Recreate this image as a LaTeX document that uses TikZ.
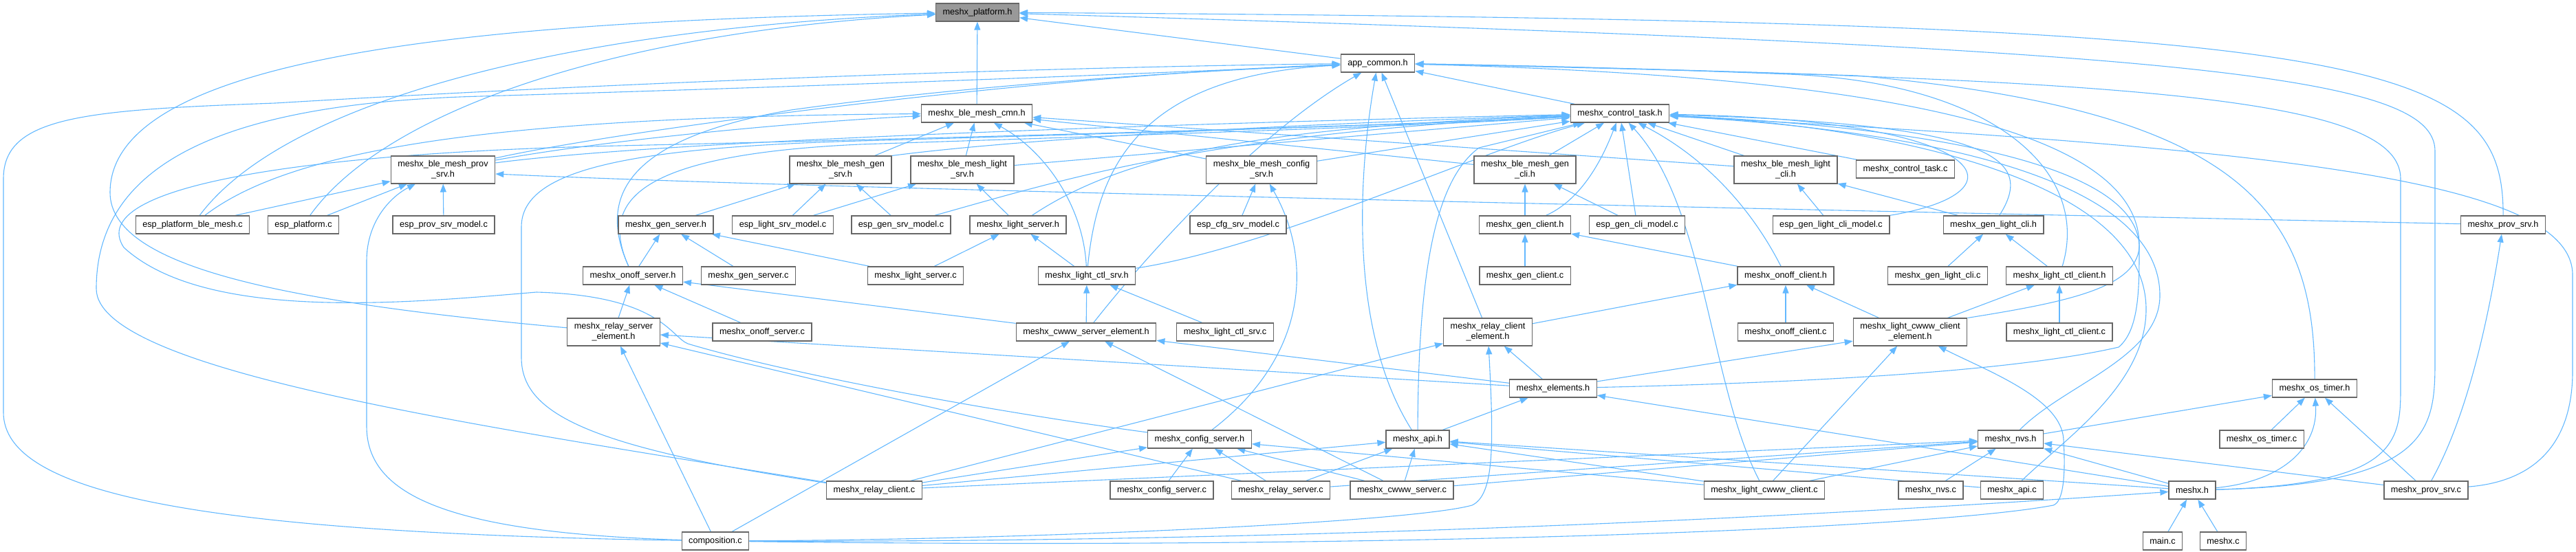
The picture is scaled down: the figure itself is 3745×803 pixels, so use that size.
\documentclass[tikz,border=0pt]{standalone}
\usepackage{fontspec}
\setsansfont{Liberation Sans}
\usetikzlibrary{arrows.meta}
\definecolor{IncBlue}{HTML}{63B8FF}
\definecolor{BoxLine}{HTML}{666666}
\definecolor{FocusGray}{HTML}{999999}
\pgfdeclarelayer{wires}
\pgfsetlayers{wires,main}

\begin{document}
\begin{tikzpicture}[x=1pt,y=-1pt,
    font=\sffamily\fontsize{12.7}{15}\selectfont,
    file/.style={draw=BoxLine,line width=1.3pt,fill=white,inner xsep=10pt,inner ysep=6.5pt,minimum height=26pt,align=center},
    focus/.style={file,fill=FocusGray},
    inc/.style={draw=IncBlue,line width=1.1pt,-{Triangle[length=12pt,width=9pt]}}]
  \path[use as bounding box] (0,0) rectangle (3745,803);

  % rows of the include graph
  \node[focus] (plat) at (1421,18) {meshx\_platform.h};
  \node[file] (app) at (2003,92) {app\_common.h};
  \node[file] (cmn) at (1420,165) {meshx\_ble\_mesh\_cmn.h};
  \node[file] (ctl) at (2355,165) {meshx\_control\_task.h};

  \node[file] (bprov) at (644,247) {meshx\_ble\_mesh\_prov\\\_srv.h};
  \node[file] (bgsrv) at (1222,247) {meshx\_ble\_mesh\_gen\\\_srv.h};
  \node[file] (blsrv) at (1399,247) {meshx\_ble\_mesh\_light\\\_srv.h};
  \node[file] (bcfg) at (1834,247) {meshx\_ble\_mesh\_config\\\_srv.h};
  \node[file] (bgcli) at (2217,247) {meshx\_ble\_mesh\_gen\\\_cli.h};
  \node[file] (blcli) at (2596,247) {meshx\_ble\_mesh\_light\\\_cli.h};
  \node[file] (ctlc) at (2770,246) {meshx\_control\_task.c};

  \node[file] (epbm) at (280,327) {esp\_platform\_ble\_mesh.c};
  \node[file] (ep) at (441,327) {esp\_platform.c};
  \node[file] (epsm) at (645,327) {esp\_prov\_srv\_model.c};
  \node[file] (gsrvh) at (968,327) {meshx\_gen\_server.h};
  \node[file] (elsm) at (1138,327) {esp\_light\_srv\_model.c};
  \node[file] (egsm) at (1310,327) {esp\_gen\_srv\_model.c};
  \node[file] (lsrvh) at (1480,327) {meshx\_light\_server.h};
  \node[file] (ecsm) at (1800,327) {esp\_cfg\_srv\_model.c};
  \node[file] (gcli) at (2217,327) {meshx\_gen\_client.h};
  \node[file] (egcm) at (2380,327) {esp\_gen\_cli\_model.c};
  \node[file] (eglcm) at (2662,327) {esp\_gen\_light\_cli\_model.c};
  \node[file] (glcli) at (2898,327) {meshx\_gen\_light\_cli.h};
  \node[file] (provh) at (3639,327) {meshx\_prov\_srv.h};

  \node[file] (onsrv) at (920,401) {meshx\_onoff\_server.h};
  \node[file] (gsrvc) at (1088,401) {meshx\_gen\_server.c};
  \node[file] (lsrvc) at (1331,401) {meshx\_light\_server.c};
  \node[file] (lctlh) at (1580,401) {meshx\_light\_ctl\_srv.h};
  \node[file] (gclic) at (2217,401) {meshx\_gen\_client.c};
  \node[file] (oncli) at (2596,401) {meshx\_onoff\_client.h};
  \node[file] (glclic) at (2817,401) {meshx\_gen\_light\_cli.c};
  \node[file] (lcch) at (2994,401) {meshx\_light\_ctl\_client.h};

  \node[file] (rsel) at (892,483) {meshx\_relay\_server\\\_element.h};
  \node[file] (onsrvc) at (1108,483) {meshx\_onoff\_server.c};
  \node[file] (cwsel) at (1579,483) {meshx\_cwww\_server\_element.h};
  \node[file] (lctlc) at (1781,483) {meshx\_light\_ctl\_srv.c};
  \node[file] (rcel) at (2163,483) {meshx\_relay\_client\\\_element.h};
  \node[file] (onclic) at (2596,483) {meshx\_onoff\_client.c};
  \node[file] (lccel) at (2777,483) {meshx\_light\_cwww\_client\\\_element.h};
  \node[file] (lccc) at (2994,483) {meshx\_light\_ctl\_client.c};

  \node[file] (elem) at (2258,565) {meshx\_elements.h};
  \node[file] (ostim) at (3365,565) {meshx\_os\_timer.h};

  \node[file] (cfgsh) at (1744,639) {meshx\_config\_server.h};
  \node[file] (api) at (2061,639) {meshx\_api.h};
  \node[file] (nvs) at (2923,639) {meshx\_nvs.h};
  \node[file] (ostimc) at (3288,639) {meshx\_os\_timer.c};

  \node[file] (rclic) at (1271,713) {meshx\_relay\_client.c};
  \node[file] (cfgsc) at (1689,713) {meshx\_config\_server.c};
  \node[file] (rsrvc) at (1862,713) {meshx\_relay\_server.c};
  \node[file] (cwsc) at (2038,713) {meshx\_cwww\_server.c};
  \node[file] (lcwcc) at (2565,713) {meshx\_light\_cwww\_client.c};
  \node[file] (nvsc) at (2807,713) {meshx\_nvs.c};
  \node[file] (apic) at (2925,713) {meshx\_api.c};
  \node[file] (mx) at (3187,713) {meshx.h};
  \node[file] (provc) at (3527,713) {meshx\_prov\_srv.c};

  \node[file] (comp) at (1040,787) {composition.c};
  \node[file] (mainc) at (3144,787) {main.c};
  \node[file] (mxc) at (3232,787) {meshx.c};

  \begin{pgfonlayer}{wires}
    % meshx_platform.h
    \draw[inc] (cmn) -- (plat);
    \draw[inc] (app) -- (plat);
    \draw[inc] (epbm) .. controls (420,140) and (850,40) .. (plat);
    \draw[inc] (ep) .. controls (560,160) and (900,45) .. (plat);
    \draw[inc] (rsel) .. controls (420,440) and (160,390) .. (160,280) .. controls (160,80) and (700,30) .. (plat);
    \draw[inc] (provh) .. controls (3640,80) and (3450,30) .. (plat);
    \draw[inc] (mx) .. controls (3540,705) and (3540,620) .. (3540,520) -- (3540,220) .. controls (3540,110) and (3200,70) .. (plat);

    % app_common.h
    \draw[inc] (ctl) -- (app);
    \draw[inc] (comp) .. controls (300,775) and (5,720) .. (5,600) -- (5,260) .. controls (5,170) and (120,160) .. (400,150) .. controls (900,120) and (1500,98) .. (app);
    \draw[inc] (rclic) .. controls (700,620) and (140,540) .. (140,420) .. controls (140,250) and (300,150) .. (700,140) .. controls (1200,125) and (1600,110) .. (app);
    \draw[inc] (onsrv) .. controls (865,280) and (920,200) .. (1150,160) .. controls (1400,125) and (1700,105) .. (app);
    \draw[inc] (bprov) .. controls (900,190) and (1500,110) .. (app);
    \draw[inc] (lctlh) .. controls (1595,250) and (1650,110) .. (app);
    \draw[inc] (cwsel) .. controls (1700,330) and (1850,180) .. (app);
    \draw[inc] (api) .. controls (1960,480) and (1975,250) .. (app);
    \draw[inc] (rcel) -- (app);
    \draw[inc] (mx) .. controls (3490,705) and (3490,640) .. (3490,560) -- (3490,260) .. controls (3490,140) and (3100,115) .. (app);
    \draw[inc] (ostim) .. controls (3366,300) and (3250,160) .. (2700,110) .. controls (2400,100) and (2200,95) .. (app);
    \draw[inc] (lcch) .. controls (3040,250) and (2900,120) .. (2600,108) .. controls (2400,100) and (2200,95) .. (app);
    \draw[inc] (lccel.north east) .. controls (3000,440) and (3105,420) .. (3110,360) .. controls (3115,180) and (2700,110) .. (app);

    % meshx_ble_mesh_cmn.h
    \draw[inc] (epbm) .. controls (420,220) and (700,170) .. (cmn);
    \draw[inc] (bprov) .. controls (900,200) and (1200,175) .. (cmn);
    \draw[inc] (bgsrv) -- (cmn);
    \draw[inc] (blsrv) -- (cmn);
    \draw[inc] (lctlh) .. controls (1575,300) and (1520,220) .. (cmn);
    \draw[inc] (bcfg) -- (cmn);
    \draw[inc] (bgcli) -- (cmn);
    \draw[inc] (blcli) -- (cmn);

    % meshx_control_task.h
    \draw[inc] (bprov) .. controls (1000,200) and (1900,175) .. (ctl);
    \draw[inc] (bgsrv.north east) .. controls (1500,200) and (1900,180) .. (ctl);
    \draw[inc] (blsrv) -- (ctl);
    \draw[inc] (bcfg) -- (ctl);
    \draw[inc] (egsm) .. controls (1550,260) and (1750,195) .. (ctl);
    \draw[inc] (lsrvh) .. controls (1640,220) and (1850,185) .. (ctl);
    \draw[inc] (lctlh) .. controls (1850,360) and (2150,220) .. (ctl);
    \draw[inc] (api) .. controls (2062,380) and (2090,260) .. (2150,215) -- (ctl);
    \draw[inc] (bgcli) -- (ctl);
    \draw[inc] (gcli) .. controls (2300,290) and (2330,230) .. (ctl);
    \draw[inc] (egcm) -- (ctl);
    \draw[inc] (lcwcc) .. controls (2485,560) and (2480,300) .. (ctl);
    \draw[inc] (oncli) .. controls (2560,330) and (2500,240) .. (ctl);
    \draw[inc] (blcli) -- (ctl);
    \draw[inc] (ctlc) -- (ctl);
    \draw[inc] (rclic) .. controls (850,650) and (758,600) .. (758,520) -- (758,330) .. controls (758,250) and (900,215) .. (1250,205) .. controls (1700,192) and (2100,180) .. (ctl);
    \draw[inc] (cfgsh) .. controls (1450,600) and (1150,545) .. (1000,500) .. controls (975,490) and (960,430) .. (780,425) .. controls (600,440) and (300,470) .. (180,360) .. controls (120,270) and (450,222) .. (900,212) .. controls (1500,198) and (2100,180) .. (ctl);
    \draw[inc] (onsrv) .. controls (870,290) and (930,225) .. (1250,210) .. controls (1700,195) and (2100,182) .. (ctl);
    \draw[inc] (glcli) .. controls (2960,230) and (2900,180) .. (ctl);
    \draw[inc] (eglcm.north east) .. controls (2950,280) and (2900,175) .. (ctl);
    \draw[inc] (apic) .. controls (3000,640) and (3120,560) .. (3120,450) .. controls (3120,250) and (2700,180) .. (ctl);
    \draw[inc] (nvs) .. controls (3000,560) and (3140,520) .. (3140,430) .. controls (3140,240) and (2720,185) .. (ctl);
    \draw[inc] (elem) .. controls (2700,555) and (2950,535) .. (3080,505) .. controls (3110,480) and (3110,420) .. (3110,360) .. controls (3110,220) and (2700,180) .. (ctl);
    \draw[inc] (provc) .. controls (3690,700) and (3740,640) .. (3740,540) -- (3740,400) .. controls (3740,260) and (3300,215) .. (ctl);

    % second row headers
    \draw[inc] (epbm) -- (bprov);
    \draw[inc] (ep) -- (bprov);
    \draw[inc] (epsm) -- (bprov);
    \draw[inc] (comp) .. controls (650,775) and (533,720) .. (533,620) -- (533,380) .. controls (533,320) and (570,285) .. (bprov);
    \draw[inc] (provh) .. controls (2400,300) and (1200,275) .. ([yshift=-6pt]bprov.east);
    \draw[inc] (gsrvh) -- (bgsrv);
    \draw[inc] (elsm) -- (bgsrv);
    \draw[inc] (egsm) -- (bgsrv);
    \draw[inc] (elsm) -- (blsrv);
    \draw[inc] (lsrvh) -- (blsrv);
    \draw[inc] (ecsm) -- (bcfg);
    \draw[inc] (cfgsh) .. controls (1900,520) and (1910,380) .. (bcfg);
    \draw[inc] (gcli) -- (bgcli);
    \draw[inc] (egcm) -- (bgcli);
    \draw[inc] (eglcm) -- (blcli);
    \draw[inc] (glcli) -- (blcli);

    % third row headers
    \draw[inc] (onsrv) -- (gsrvh);
    \draw[inc] (gsrvc) -- (gsrvh);
    \draw[inc] (lsrvc) -- (gsrvh);
    \draw[inc] (lsrvc) -- (lsrvh);
    \draw[inc] (lctlh) -- (lsrvh);
    \draw[inc] (gclic) -- (gcli);
    \draw[inc] (oncli) -- (gcli);
    \draw[inc] (glclic) -- (glcli);
    \draw[inc] (lcch) -- (glcli);
    \draw[inc] (provc) .. controls (3590,600) and (3620,450) .. (provh);

    \draw[inc] (rsel) -- (onsrv);
    \draw[inc] (onsrvc) -- (onsrv);
    \draw[inc] (cwsel) -- (onsrv);
    \draw[inc] (cwsel) -- (lctlh);
    \draw[inc] (lctlc) -- (lctlh);
    \draw[inc] (rcel) -- (oncli);
    \draw[inc] (onclic) -- (oncli);
    \draw[inc] (lccel) -- (oncli);
    \draw[inc] (lccel) -- (lcch);
    \draw[inc] (lccc) -- (lcch);

    % element headers
    \draw[inc] (comp) -- (rsel);
    \draw[inc] (elem) -- (rsel);
    \draw[inc] (rsrvc) -- (rsel);
    \draw[inc] (comp) -- (cwsel);
    \draw[inc] (cwsc) -- (cwsel);
    \draw[inc] (elem) -- (cwsel);
    \draw[inc] (elem) -- (rcel);
    \draw[inc] (rclic) -- (rcel);
    \draw[inc] (comp) .. controls (1500,785) and (2050,760) .. (2140,735) .. controls (2172,720) and (2172,650) .. (rcel);
    \draw[inc] (comp) .. controls (2000,800) and (2800,770) .. (2985,735) .. controls (3000,730) and (3003,690) .. (3000,640) .. controls (2998,580) and (2890,540) .. (lccel);
    \draw[inc] (elem) -- (lccel);
    \draw[inc] (lcwcc) -- (lccel);
    \draw[inc] (api) -- (elem);
    \draw[inc] (mx) -- (elem);

    % lower headers
    \draw[inc] (nvs) -- (ostim);
    \draw[inc] (ostimc) -- (ostim);
    \draw[inc] (mx) .. controls (3320,700) and (3370,650) .. (ostim);
    \draw[inc] (provc) -- (ostim);
    \draw[inc] (rclic) -- (cfgsh);
    \draw[inc] (cfgsc) -- (cfgsh);
    \draw[inc] (rsrvc) -- (cfgsh);
    \draw[inc] (cwsc) -- (cfgsh);
    \draw[inc] (lcwcc) -- (cfgsh);
    \draw[inc] (rclic) -- (api);
    \draw[inc] (rsrvc) -- (api);
    \draw[inc] (cwsc) -- (api);
    \draw[inc] (lcwcc) -- (api);
    \draw[inc] (apic) -- (api);
    \draw[inc] (mx) -- (api);
    \draw[inc] (lcwcc) -- (nvs);
    \draw[inc] (nvsc) -- (nvs);
    \draw[inc] (mx) -- (nvs);
    \draw[inc] (provc) -- (nvs);
    \draw[inc] (rclic) -- (nvs);
    \draw[inc] (rsrvc) -- (nvs);
    \draw[inc] (cwsc) -- (nvs);
    \draw[inc] (mainc) -- (mx);
    \draw[inc] (mxc) -- (mx);
    \draw[inc] (comp) .. controls (2000,790) and (2800,740) .. (mx);
  \end{pgfonlayer}
\end{tikzpicture}
\end{document}
